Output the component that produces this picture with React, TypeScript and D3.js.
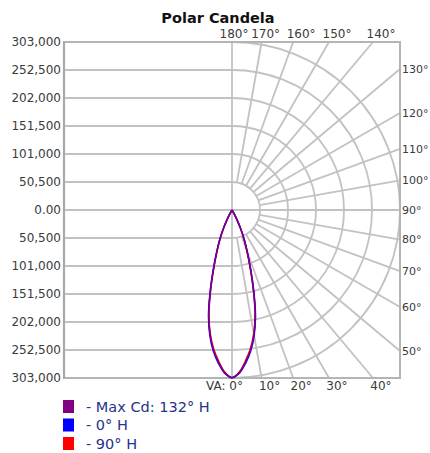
import React from "react";
import * as d3 from "d3";

// vertical angles (deg from nadir) and candela values per plane
const angles = [0, 2.5, 5, 7.5, 10, 12.5, 15, 17.5, 20, 22.5, 25, 27.5, 30, 32.5];
const maxCd = [303000, 294000, 276000, 255000, 228000, 194000, 150000, 110000, 80000, 57000, 35000, 17000, 4000, 0];
const h0 = [302000, 295000, 278000, 257000, 230000, 196000, 152000, 112000, 81000, 58000, 36000, 18000, 4500, 0];
const h90 = [303000, 293000, 274000, 253000, 226000, 192000, 148000, 108000, 78000, 56000, 34000, 16000, 3500, 0];

const radialTicks = [0, 50500, 101000, 151500, 202000, 252500, 303000];
const angleTicks = [10, 20, 30, 40, 50, 60, 70, 80, 100, 110, 120, 130, 140, 150, 160, 170];
const bottomLabels = [0, 10, 20, 30, 40];
const rightLabels = [50, 60, 70, 80, 90, 100, 110, 120, 130];
const topLabels = [140, 150, 160, 170, 180];

const series = [
  { name: "- 90° H", color: "#ff0000", values: h90 },
  { name: "- 0° H", color: "#0000ff", values: h0 },
  { name: "- Max Cd: 132° H", color: "#800080", values: maxCd },
];
const legendOrder = [series[2], series[1], series[0]];

const W = 430;
const H = 453;
const cx = 232;
const cy = 210;
const R = 168;
const grid = "#c2c2c2";
const font = "DejaVu Sans, Verdana, sans-serif";

export default function App() {
  const r = d3.scaleLinear().domain([0, 303000]).range([0, R]);
  const rad = (deg: number) => (deg * Math.PI) / 180;

  // distance from centre to box edge along angle phi (from nadir, right side)
  const edgeDist = (phi: number) => {
    const s = Math.sin(rad(phi));
    const c = Math.cos(rad(phi));
    const tx = s > 1e-6 ? R / s : Infinity;
    const ty = Math.abs(c) > 1e-6 ? R / Math.abs(c) : Infinity;
    return Math.min(tx, ty);
  };
  const pt = (phi: number, d: number): [number, number] => [
    cx + d * Math.sin(rad(phi)),
    cy + d * Math.cos(rad(phi)),
  ];

  const curve = d3
    .lineRadial<[number, number]>()
    .angle((d) => d[0])
    .radius((d) => r(d[1]))
    .curve(d3.curveCatmullRom.alpha(0.5));

  const pathFor = (vals: number[]) => {
    const right = angles.map((a, i) => [Math.PI - rad(a), vals[i]] as [number, number]);
    const left = angles.map((a, i) => [Math.PI + rad(a), vals[i]] as [number, number]);
    const pts = [...left.slice().reverse(), ...right.slice(1)];
    return curve(pts) || "";
  };

  const arc = d3.arc();

  return (
    <svg
      width={W}
      height={H}
      style={{ position: "absolute", left: 0, top: 0, background: "#fff" }}
      fontFamily={font}
    >
      <text x={218} y={23} textAnchor="middle" fontWeight="bold" fontSize={14.5} fill="#111">
        Polar Candela
      </text>

      {/* left horizontal grid */}
      {radialTicks.map((v) => (
        <g key={"h" + v}>
          <line x1={cx - R} x2={cx} y1={cy - r(v)} y2={cy - r(v)} stroke={grid} strokeWidth={1.8} />
          <line x1={cx - R} x2={cx} y1={cy + r(v)} y2={cy + r(v)} stroke={grid} strokeWidth={1.8} />
        </g>
      ))}

      {/* circles on right */}
      {radialTicks.slice(1).map((v) => (
        <path
          key={"c" + v}
          transform={`translate(${cx},${cy})`}
          d={arc({ innerRadius: r(v), outerRadius: r(v), startAngle: 0, endAngle: Math.PI }) || ""}
          fill="none"
          stroke={grid}
          strokeWidth={1.8}
        />
      ))}

      {/* radial spokes */}
      {angleTicks.map((a) => {
        const [x1, y1] = pt(a, r(radialTicks[1]));
        const [x2, y2] = pt(a, edgeDist(a));
        return <line key={"s" + a} x1={x1} y1={y1} x2={x2} y2={y2} stroke={grid} strokeWidth={1.8} />;
      })}
      <line x1={cx - R} x2={cx + R} y1={cy} y2={cy} stroke={grid} strokeWidth={1.8} />
      <line x1={cx} x2={cx} y1={cy - R} y2={cy + R} stroke={grid} strokeWidth={1.8} />

      {/* frame */}
      <rect x={cx - R} y={cy - R} width={2 * R} height={2 * R} fill="none" stroke="#b4b4b4" strokeWidth={2} />
      <line x1={cx - R} x2={cx - R} y1={cy - R} y2={cy + R} stroke="#a8a8a8" strokeWidth={2.2} />

      {/* y labels */}
      {radialTicks.map((v) => (
        <g key={"l" + v} fontSize={12} fill="#3a3a3a" textAnchor="end">
          <text x={cx - R - 3} y={cy - r(v)} dy="0.35em">
            {v === 0 ? "0.00" : d3.format(",")(v)}
          </text>
          {v > 0 && (
            <text x={cx - R - 3} y={cy + r(v)} dy="0.35em">
              {d3.format(",")(v)}
            </text>
          )}
        </g>
      ))}

      {/* angle labels */}
      {bottomLabels.map((a) => {
        const [x] = pt(a, edgeDist(a));
        return a === 0 ? (
          <text key="b0" x={x + 11} y={cy + R + 12} fontSize={12} fill="#3a3a3a" textAnchor="end">
            VA: 0°
          </text>
        ) : (
          <text key={"b" + a} x={x + 8} y={cy + R + 12} fontSize={12} fill="#3a3a3a" textAnchor="middle">
            {a + "°"}
          </text>
        );
      })}
      {topLabels.map((a) => {
        const [x] = pt(a, edgeDist(a));
        const off = a === 180 ? 2 : a === 170 ? 4 : 8;
        return (
          <text key={"t" + a} x={x + off} y={cy - R - 4} fontSize={12} fill="#3a3a3a" textAnchor="middle">
            {a + "°"}
          </text>
        );
      })}
      {rightLabels.map((a) => {
        const [, y] = pt(a, edgeDist(a));
        return (
          <text key={"r" + a} x={cx + R + 2} y={y} dy="0.35em" fontSize={11} fill="#3a3a3a">
            {a + "°"}
          </text>
        );
      })}

      {/* curves */}
      {series.map((s) => (
        <path key={s.name} d={pathFor(s.values)} transform={`translate(${cx},${cy})`} fill="none" stroke={s.color} strokeWidth={1.5} />
      ))}

      {/* legend */}
      {legendOrder.map((s, i) => (
        <g key={"lg" + s.name} transform={`translate(63,${400 + i * 18.5})`}>
          <rect width={11} height={13} fill={s.color} />
          <text x={23} y={6.5} dy="0.35em" fontSize={14.5} fill="#26348a">
            {s.name}
          </text>
        </g>
      ))}
    </svg>
  );
}
